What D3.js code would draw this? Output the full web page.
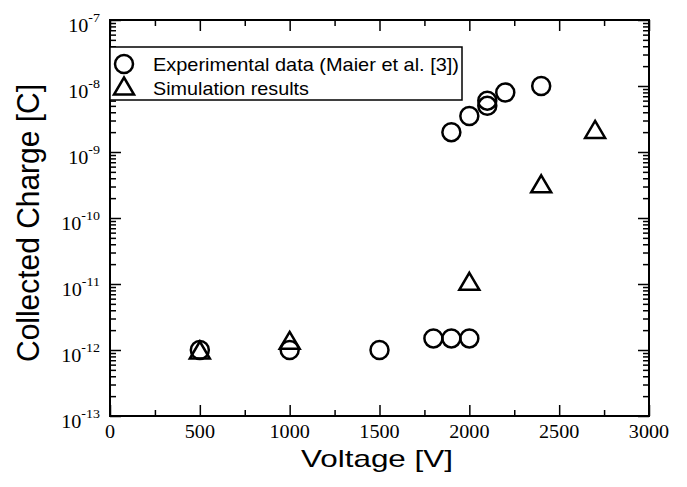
<!DOCTYPE html>
<meta charset="utf-8">
<style>
body { margin: 0; background: #fff; }
.frame { fill: none; stroke: #000; stroke-width: 2px; }
.tick line { stroke: #000; stroke-width: 1.5px; }
.axis .domain { display: none; }
.tlabel { font-family: "Liberation Serif", "Times New Roman", serif; font-size: 18px; fill: #000; }
.title { font-family: "Liberation Sans", Arial, sans-serif; fill: #000; }
.exp { fill: none; stroke: #000; stroke-width: 2.5px; }
.sim { fill: none; stroke: #000; stroke-width: 2.5px; stroke-linejoin: miter; }
.legend-box { fill: #fff; stroke: #000; stroke-width: 1.5px; }
.legend-text { font-family: "Liberation Sans", Arial, sans-serif; font-size: 18.5px; fill: #000; }
</style>
<body>
<script src="https://cdn.jsdelivr.net/npm/d3@7"></script>
<script>
// experimental data (circles)
var expVoltage = [500, 1000, 1500, 1800, 1900, 2000, 1900, 2000, 2100, 2100, 2200, 2400];
var expCharge = [1e-12, 1e-12, 1e-12, 1.5e-12, 1.5e-12, 1.5e-12, 2e-9, 3.5e-9, 5e-9, 6e-9, 8e-9, 1e-8];

// simulation results (triangles)
var simVoltage = [500, 1000, 2000, 2400, 2700];
var simCharge = [1e-12, 1.4e-12, 1.1e-11, 3.3e-10, 2.2e-9];

var xTicks = [0, 500, 1000, 1500, 2000, 2500, 3000];
var xMinor = [250, 750, 1250, 1750, 2250, 2750];
var yExponents = [-13, -12, -11, -10, -9, -8, -7];

var legendLabels = ["Experimental data (Maier et al. [3])", "Simulation results"];

var width = 687, height = 487;
var margin = {top: 20, right: 38, bottom: 71, left: 110};

var svg = d3.select("body").append("svg")
    .attr("width", width)
    .attr("height", height);

var x = d3.scaleLinear().domain([0, 3000]).range([margin.left, width - margin.right]);
var y = d3.scaleLog().domain([1e-13, 1e-7]).range([height - margin.bottom, margin.top]);

var yMajor = yExponents.map(function(e) { return Math.pow(10, e); });
var yMinor = y.ticks().filter(function(v) {
  return Math.abs(Math.log10(v) - Math.round(Math.log10(v))) > 1e-6;
});

var x0 = x.range()[0], x1 = x.range()[1], y0 = y.range()[0], y1 = y.range()[1];

// ticks, all pointing inward
function addAxis(axis, tr) {
  svg.append("g").attr("class", "axis").attr("transform", tr).call(axis);
}
addAxis(d3.axisBottom(x).tickValues(xTicks).tickSize(-11).tickFormat(""), "translate(0," + y0 + ")");
addAxis(d3.axisBottom(x).tickValues(xMinor).tickSize(-6).tickFormat(""), "translate(0," + y0 + ")");
addAxis(d3.axisTop(x).tickValues(xTicks).tickSize(-11).tickFormat(""), "translate(0," + y1 + ")");
addAxis(d3.axisTop(x).tickValues(xMinor).tickSize(-6).tickFormat(""), "translate(0," + y1 + ")");
addAxis(d3.axisLeft(y).tickValues(yMajor).tickSize(-11).tickFormat(""), "translate(" + x0 + ",0)");
addAxis(d3.axisLeft(y).tickValues(yMinor).tickSize(-6).tickFormat(""), "translate(" + x0 + ",0)");
addAxis(d3.axisRight(y).tickValues(yMajor).tickSize(-11).tickFormat(""), "translate(" + x1 + ",0)");
addAxis(d3.axisRight(y).tickValues(yMinor).tickSize(-6).tickFormat(""), "translate(" + x1 + ",0)");

svg.append("rect").attr("class", "frame")
    .attr("x", x0).attr("y", y1)
    .attr("width", x1 - x0).attr("height", y0 - y1);

// x tick labels
svg.selectAll(".xl").data(xTicks).enter().append("text")
    .attr("class", "tlabel")
    .attr("text-anchor", "middle")
    .attr("transform", function(d) { return "translate(" + x(d) + "," + (y0 + 22) + ") scale(1.12,1)"; })
    .text(function(d) { return d; });

// y tick labels 10^n
var yl = svg.selectAll(".yl").data(yExponents).enter().append("text")
    .attr("class", "tlabel")
    .attr("text-anchor", "end")
    .attr("transform", function(d) { return "translate(100," + (y(Math.pow(10, d)) + 11.5) + ") scale(1.12,1)"; });
yl.append("tspan").text("10");
yl.append("tspan").attr("dy", -10).style("font-size", "12.5px").text(function(d) { return "-" + Math.abs(d); });

// axis titles
svg.append("text").attr("class", "title")
    .attr("x", 377).attr("y", 467)
    .attr("text-anchor", "middle")
    .style("font-size", "24px")
    .attr("textLength", 152).attr("lengthAdjust", "spacingAndGlyphs")
    .text("Voltage [V]");

svg.append("text").attr("class", "title")
    .attr("transform", "translate(39,223) rotate(-90)")
    .attr("text-anchor", "middle")
    .style("font-size", "31px")
    .attr("textLength", 278).attr("lengthAdjust", "spacingAndGlyphs")
    .text("Collected Charge [C]");

// markers
var tri = "M0,-8.5L10,8.5L-10,8.5Z";

svg.selectAll(".exp").data(expVoltage).enter().append("circle")
    .attr("class", "exp")
    .attr("cx", function(d) { return x(d); })
    .attr("cy", function(d, i) { return y(expCharge[i]); })
    .attr("r", 9);

svg.selectAll(".sim").data(simVoltage).enter().append("path")
    .attr("class", "sim")
    .attr("d", tri)
    .attr("transform", function(d, i) { return "translate(" + x(d) + "," + y(simCharge[i]) + ")"; });

// legend
var lg = svg.append("g");
lg.append("rect").attr("class", "legend-box")
    .attr("x", x0).attr("y", 47).attr("width", 462 - x0).attr("height", 53);
lg.append("circle").attr("class", "exp").attr("cx", 124).attr("cy", 64).attr("r", 9);
lg.append("path").attr("class", "sim").attr("d", tri).attr("transform", "translate(124,86)");
lg.append("text").attr("class", "legend-text")
    .attr("x", 153).attr("y", 70.5)
    .attr("textLength", 306).attr("lengthAdjust", "spacingAndGlyphs")
    .text(legendLabels[0]);
lg.append("text").attr("class", "legend-text")
    .attr("x", 153).attr("y", 94.5)
    .attr("textLength", 156).attr("lengthAdjust", "spacingAndGlyphs")
    .text(legendLabels[1]);
</script>
</body>
